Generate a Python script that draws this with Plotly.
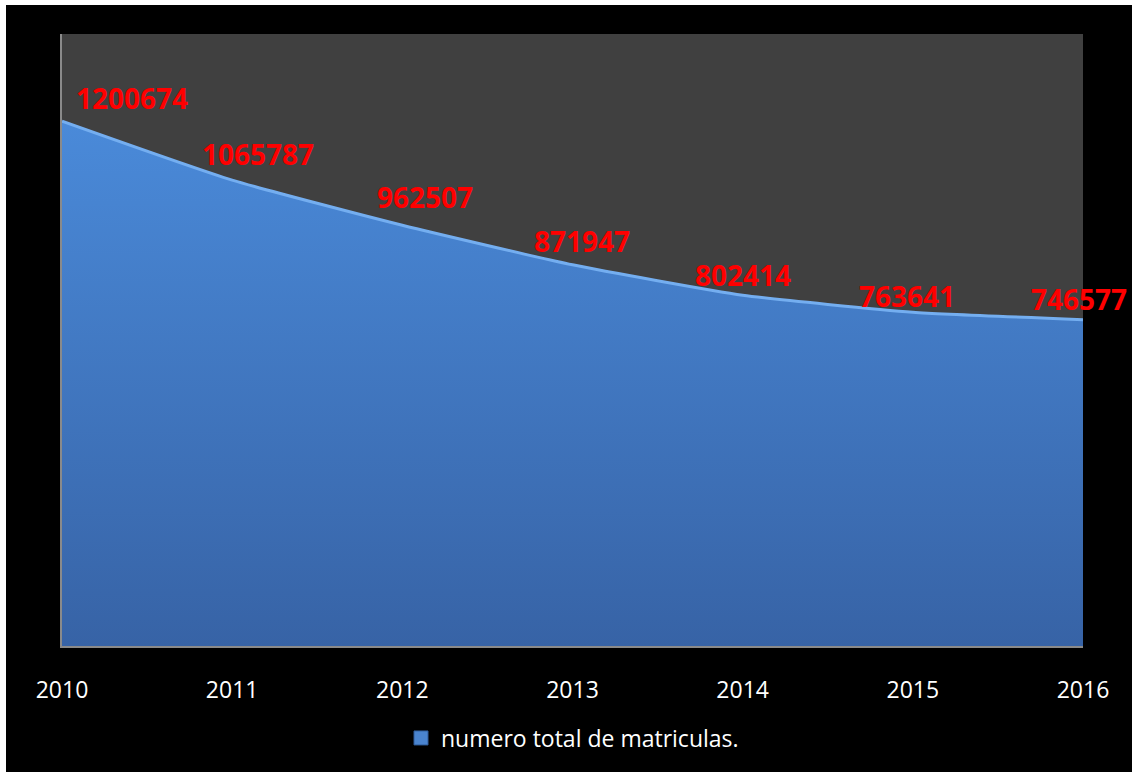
import plotly.graph_objects as go

years = [2010, 2011, 2012, 2013, 2014, 2015, 2016]
matriculas = [1200674, 1065787, 962507, 871947, 802414, 763641, 746577]
series_name = "numero total de matriculas."

# label placement tweaks (pixels), styling only
label_xshift = [70, 26, 23, 9, 0, -6, -4]
label_yshift = [23, 26, 28, 24, 20, 16, 21]

fig = go.Figure()
fig.add_trace(go.Scatter(
    x=years, y=matriculas, name=series_name,
    mode="lines", fill="tozeroy",
    line=dict(color="#74aef0", width=3, shape="spline", smoothing=0.5),
    fillgradient=dict(type="vertical",
                      colorscale=[[0, "#3763a6"], [1, "#4a8ad9"]]),
    showlegend=False,
))
# legend entry with a square swatch
fig.add_trace(go.Scatter(
    x=[None], y=[None], name=series_name, mode="markers",
    marker=dict(symbol="square", size=14, color="#4a84cf",
                line=dict(color="#2f5b99", width=1)),
    showlegend=True,
))

for x, y, dx, dy in zip(years, matriculas, label_xshift, label_yshift):
    fig.add_annotation(x=x, y=y, text=f"<b>{y}</b>", showarrow=False,
                       xshift=dx, yshift=dy,
                       font=dict(family="Open Sans", size=28, color="#ff0000"))

W, H = 1132, 772
ml, mr, mt, mb = 62, 49, 34, 126
pw, ph = W - ml - mr, H - mt - mb

# white strips at the top and left of the picture
fig.add_shape(type="rect", xref="paper", yref="paper",
              x0=-ml / pw - 0.01, x1=(6 - ml) / pw, y0=-mb / ph - 0.01, y1=1 + mt / ph + 0.01,
              fillcolor="white", line=dict(width=0), layer="above")
fig.add_shape(type="rect", xref="paper", yref="paper",
              x0=-ml / pw - 0.01, x1=1 + mr / pw + 0.01, y0=1 + (mt - 5) / ph, y1=1 + mt / ph + 0.01,
              fillcolor="white", line=dict(width=0), layer="above")

fig.update_layout(
    width=W, height=H,
    margin=dict(l=ml, r=mr, t=mt, b=mb),
    paper_bgcolor="black", plot_bgcolor="#404040",
    font=dict(family="Open Sans", color="white"),
    xaxis=dict(range=[2010, 2016], tickvals=years, ticktext=[str(y) for y in years],
               showgrid=False, zeroline=False, showline=True, linecolor="#8a8a8a",
               linewidth=2, ticks="", ticklabelstandoff=22,
               tickfont=dict(family="Open Sans", size=23, color="white")),
    yaxis=dict(range=[0, 1400000], showgrid=False, zeroline=False,
               showticklabels=False, showline=True, linecolor="#8a8a8a", linewidth=2,
               ticks=""),
    legend=dict(orientation="h", x=0.5, xanchor="center", y=-(738 - 646) / ph,
                yanchor="middle", bgcolor="rgba(0,0,0,0)", itemsizing="trace",
                font=dict(family="Open Sans", size=23, color="white")),
)

fig.write_html("out.html", config={"displayModeBar": False},
               post_script=("document.body.style.margin='0';"
                            "document.body.style.background='black';"
                            "document.documentElement.style.background='black';"
                            "document.body.style.overflow='hidden';"))
